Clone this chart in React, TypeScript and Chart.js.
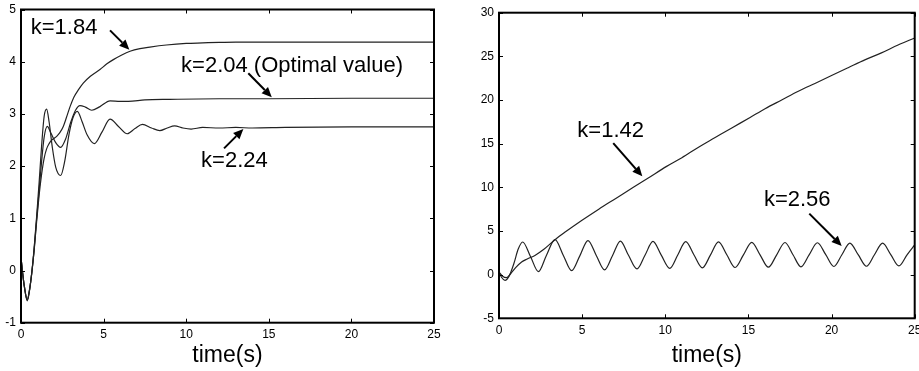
import { useEffect, useRef } from "react";
import { Chart, registerables } from "chart.js";

Chart.register(...registerables);

const FONT = "'Liberation Sans', Arial, Helvetica, sans-serif";
const LINE = "#222";

// ---------- Left panel data ----------
const tK184 = [0, 0.1, 0.2, 0.38, 0.5, 0.65, 0.8, 0.95, 1.1, 1.25, 1.4, 1.55, 1.7, 1.86, 2.0, 2.16, 2.35, 2.56, 2.75, 2.97, 3.2, 3.47, 3.77, 4.2, 4.78, 5.2, 5.59, 6.1, 6.6, 7.2, 7.8, 8.8, 10, 11, 12, 13, 15, 20, 25];
const yK184 = [0.25, -0.05, -0.3, -0.56, -0.4, -0.05, 0.4, 0.95, 1.45, 1.85, 2.15, 2.33, 2.43, 2.5, 2.53, 2.57, 2.64, 2.76, 2.93, 3.14, 3.32, 3.46, 3.59, 3.72, 3.85, 3.96, 4.04, 4.13, 4.2, 4.25, 4.28, 4.32, 4.35, 4.36, 4.37, 4.375, 4.375, 4.375, 4.375];

const tK204 = [0, 0.1, 0.2, 0.38, 0.5, 0.65, 0.8, 0.95, 1.1, 1.25, 1.4, 1.59, 1.8, 2.1, 2.4, 2.7, 3.0, 3.3, 3.57, 3.9, 4.28, 4.78, 5.39, 6.0, 6.5, 7.5, 9, 12, 15, 20, 25];
const yK204 = [0.25, -0.05, -0.3, -0.57, -0.4, -0.05, 0.42, 1.0, 1.55, 2.1, 2.55, 2.76, 2.64, 2.45, 2.36, 2.52, 2.83, 3.07, 3.16, 3.13, 3.07, 3.14, 3.25, 3.24, 3.24, 3.27, 3.28, 3.29, 3.29, 3.3, 3.3];

const tK224 = [0, 0.1, 0.2, 0.38, 0.5, 0.65, 0.8, 0.95, 1.1, 1.25, 1.4, 1.55, 1.7, 1.9, 2.1, 2.4, 2.65, 2.9, 3.15, 3.41, 3.7, 4.0, 4.44, 4.9, 5.39, 5.9, 6.43, 6.9, 7.35, 7.9, 8.4, 8.85, 9.3, 9.8, 10.3, 11, 12, 13, 14, 16, 20, 25];
const yK224 = [0.25, -0.05, -0.3, -0.58, -0.42, -0.05, 0.45, 1.05, 1.7, 2.4, 2.95, 3.09, 2.85, 2.35, 1.98, 1.82, 2.1, 2.6, 2.93, 3.05, 2.85, 2.6, 2.43, 2.65, 2.9, 2.76, 2.62, 2.72, 2.8, 2.73, 2.68, 2.73, 2.77, 2.73, 2.71, 2.74, 2.73, 2.74, 2.73, 2.74, 2.75, 2.75];

// ---------- Right panel data ----------
const tK142 = [0, 0.2, 0.45, 0.7, 1.0, 1.36, 1.7, 2.16, 2.7, 3.37, 4.0, 4.97, 6, 7, 8.08, 9, 10.08, 11, 12, 13, 14, 15.1, 16, 17, 18, 19, 20, 21, 22, 23, 24, 25];
const yK142 = [0.3, -0.15, -0.35, 0.1, 0.8, 1.45, 1.8, 2.2, 2.9, 4.0, 4.9, 6.2, 7.5, 8.7, 10.0, 11.1, 12.4, 13.4, 14.6, 15.7, 16.8, 18.0, 19.0, 20.0, 21.0, 21.9, 22.8, 23.7, 24.6, 25.4, 26.3, 27.1];

const tK256 = [0, 0.15, 0.36, 0.6, 0.9, 1.15, 1.42, 1.9, 2.37, 2.85, 3.37, 3.87, 4.37, 4.86, 5.35, 5.85, 6.35, 6.83, 7.3, 7.78, 8.3, 8.78, 9.26, 9.75, 10.27, 10.75, 11.23, 11.72, 12.23, 12.72, 13.2, 13.7, 14.2, 14.7, 15.2, 15.7, 16.2, 16.7, 17.2, 17.68, 18.16, 18.65, 19.15, 19.65, 20.14, 20.62, 21.1, 21.6, 22.1, 22.58, 23.07, 23.56, 24.05, 24.55, 25];
const yK256 = [0.3, -0.3, -0.65, -0.2, 1.3, 2.9, 3.74, 2.05, 0.35, 2.2, 4.0, 2.2, 0.45, 2.15, 3.9, 2.2, 0.55, 2.2, 3.85, 2.25, 0.65, 2.22, 3.8, 2.26, 0.72, 2.25, 3.78, 2.28, 0.78, 2.26, 3.75, 2.28, 0.82, 2.26, 3.7, 2.27, 0.85, 2.27, 3.68, 2.28, 0.9, 2.27, 3.65, 2.29, 0.93, 2.28, 3.62, 2.29, 0.96, 2.28, 3.6, 2.3, 1.0, 2.3, 3.4];

// ---------- Axis ticks ----------
const xTicks = [0, 5, 10, 15, 20, 25];
const leftYTicks = [-1, 0, 1, 2, 3, 4, 5];
const rightYTicks = [-5, 0, 5, 10, 15, 20, 25, 30];

// ---------- Annotations (data coordinates) ----------
const leftLabels = [
  { text: "k=1.84", t: 0.59, y: 4.53 },
  { text: "k=2.04 (Optimal value)", t: 9.69, y: 3.81 },
  { text: "k=2.24", t: 10.9, y: 1.99 },
];
const leftArrows = [
  { t1: 5.39, y1: 4.6, t2: 6.56, y2: 4.23 },
  { t1: 13.76, y1: 3.78, t2: 15.18, y2: 3.32 },
  { t1: 12.29, y1: 2.34, t2: 13.46, y2: 2.71 },
];
const rightLabels = [
  { text: "k=1.42", t: 4.71, y: 15.76 },
  { text: "k=2.56", t: 15.93, y: 7.86 },
];
const rightArrows = [
  { t1: 6.87, y1: 15.07, t2: 8.62, y2: 11.26 },
  { t1: 18.66, y1: 6.99, t2: 20.61, y2: 3.28 },
];

const zip = (t: number[], y: number[]) => t.map((v, i) => ({ x: v, y: y[i] }));

const matlabPlugin = {
  id: "matlab",
  afterDraw(chart: any, _args: any, opts: any) {
    const { ctx, chartArea } = chart;
    const xs = chart.scales.x;
    const ys = chart.scales.y;
    const { left, right, top, bottom } = chartArea;
    ctx.save();
    ctx.strokeStyle = "#000";
    ctx.lineWidth = 1;
    const tl = 4;
    xs.ticks.forEach((tk: any) => {
      const px = Math.round(xs.getPixelForValue(tk.value)) + 0.5;
      ctx.beginPath();
      ctx.moveTo(px, bottom);
      ctx.lineTo(px, bottom - tl);
      ctx.moveTo(px, top);
      ctx.lineTo(px, top + tl);
      ctx.stroke();
    });
    ys.ticks.forEach((tk: any) => {
      const py = Math.round(ys.getPixelForValue(tk.value)) + 0.5;
      ctx.beginPath();
      ctx.moveTo(left, py);
      ctx.lineTo(left + tl, py);
      ctx.moveTo(right, py);
      ctx.lineTo(right - tl, py);
      ctx.stroke();
    });
    ctx.lineWidth = 2;
    ctx.strokeRect(left, top, right - left, bottom - top);

    ctx.fillStyle = "#000";
    ctx.font = `22px ${FONT}`;
    ctx.textAlign = "left";
    ctx.textBaseline = "alphabetic";
    (opts.labels || []).forEach((l: any) => {
      ctx.fillText(l.text, xs.getPixelForValue(l.t), ys.getPixelForValue(l.y));
    });
    (opts.arrows || []).forEach((a: any) => {
      const x1 = xs.getPixelForValue(a.t1);
      const y1 = ys.getPixelForValue(a.y1);
      const x2 = xs.getPixelForValue(a.t2);
      const y2 = ys.getPixelForValue(a.y2);
      const ang = Math.atan2(y2 - y1, x2 - x1);
      const hl = 10;
      const hw = 4.5;
      const bx = x2 - hl * Math.cos(ang);
      const by = y2 - hl * Math.sin(ang);
      ctx.lineWidth = 2;
      ctx.beginPath();
      ctx.moveTo(x1, y1);
      ctx.lineTo(bx, by);
      ctx.stroke();
      ctx.beginPath();
      ctx.moveTo(x2, y2);
      ctx.lineTo(bx + hw * Math.sin(ang), by - hw * Math.cos(ang));
      ctx.lineTo(bx - hw * Math.sin(ang), by + hw * Math.cos(ang));
      ctx.closePath();
      ctx.fill();
    });
    ctx.restore();
  },
};

function buildConfig(
  series: { t: number[]; y: number[] }[],
  yMin: number,
  yMax: number,
  yStep: number,
  yTicks: number[],
  geom: { yWidth: number; xHeight: number; top: number; right: number },
  labels: any[],
  arrows: any[]
): any {
  return {
    type: "line",
    data: {
      datasets: series.map((s) => ({
        data: zip(s.t, s.y),
        borderColor: LINE,
        borderWidth: 1.2,
        pointRadius: 0,
        fill: false,
        cubicInterpolationMode: "monotone",
      })),
    },
    options: {
      animation: false,
      responsive: false,
      events: [],
      layout: { padding: { left: 0, top: geom.top, right: geom.right, bottom: 0 } },
      plugins: {
        legend: { display: false },
        tooltip: { enabled: false },
        matlab: { labels, arrows },
      },
      scales: {
        x: {
          type: "linear",
          min: 0,
          max: 25,
          afterBuildTicks: (s: any) => {
            s.ticks = xTicks.map((v) => ({ value: v }));
          },
          ticks: {
            color: "#000",
            font: { size: 12, family: FONT },
            padding: 5,
            maxRotation: 0,
            autoSkip: false,
          },
          grid: { display: false, drawTicks: false },
          border: { display: false },
          title: {
            display: true,
            text: "time(s)",
            color: "#000",
            font: { size: 23, family: FONT },
            padding: { top: 0, bottom: 2 },
          },
          afterFit: (s: any) => {
            s.height = geom.xHeight;
            s.paddingLeft = 0;
            s.paddingRight = 0;
          },
        },
        y: {
          type: "linear",
          min: yMin,
          max: yMax,
          afterBuildTicks: (s: any) => {
            s.ticks = yTicks.map((v) => ({ value: v }));
          },
          ticks: {
            stepSize: yStep,
            color: "#000",
            font: { size: 12, family: FONT },
            padding: 5,
          },
          grid: { display: false, drawTicks: false },
          border: { display: false },
          afterFit: (s: any) => {
            s.width = geom.yWidth;
            s.paddingTop = 0;
            s.paddingBottom = 0;
          },
        },
      },
    },
    plugins: [matlabPlugin],
  };
}

export default function App() {
  const leftRef = useRef<HTMLCanvasElement>(null);
  const rightRef = useRef<HTMLCanvasElement>(null);

  useEffect(() => {
    const left = new Chart(
      leftRef.current!,
      buildConfig(
        [
          { t: tK184, y: yK184 },
          { t: tK204, y: yK204 },
          { t: tK224, y: yK224 },
        ],
        -1,
        5,
        1,
        leftYTicks,
        { yWidth: 21, xHeight: 48.3, top: 9.5, right: 26 },
        leftLabels,
        leftArrows
      )
    );
    const right = new Chart(
      rightRef.current!,
      buildConfig(
        [
          { t: tK142, y: yK142 },
          { t: tK256, y: yK256 },
        ],
        -5,
        30,
        5,
        rightYTicks,
        { yWidth: 39, xHeight: 52.7, top: 12.7, right: 4.3 },
        rightLabels,
        rightArrows
      )
    );
    return () => {
      left.destroy();
      right.destroy();
    };
  }, []);

  return (
    <div
      style={{
        position: "absolute",
        left: 0,
        top: 0,
        width: 919,
        height: 371,
        overflow: "hidden",
        background: "#fff",
      }}
    >
      <canvas
        ref={leftRef}
        width={460}
        height={371}
        style={{ position: "absolute", left: 0, top: 0, width: 460, height: 371 }}
      />
      <canvas
        ref={rightRef}
        width={459}
        height={371}
        style={{ position: "absolute", left: 460, top: 0, width: 459, height: 371 }}
      />
    </div>
  );
}
